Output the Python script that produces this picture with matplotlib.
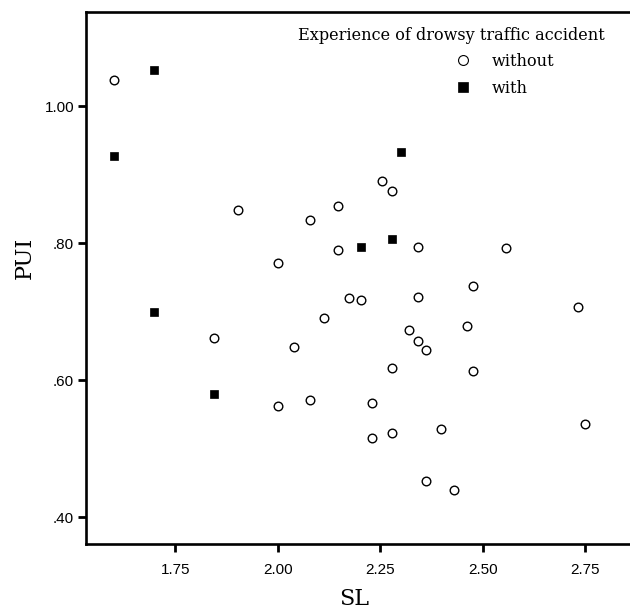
#!/usr/bin/env python3
"""
PUI vs SL scatter, split by drowsy accident experience
"""
import matplotlib
matplotlib.use("Agg")
import matplotlib.pyplot as plt
from matplotlib.ticker import FuncFormatter

# without accident (open circles)
sl_without = [1.600, 1.902, 2.079, 2.000, 2.253, 2.279, 2.146, 2.146, 2.341,
              2.557, 2.477, 2.174, 2.203, 2.341, 1.844, 2.040, 2.000, 2.079,
              2.733, 2.113, 2.462, 2.321, 2.341, 2.361, 2.279, 2.477, 2.230,
              2.749, 2.230, 2.279, 2.397, 2.361, 2.430]
pui_without = [1.039, 0.849, 0.834, 0.772, 0.891, 0.876, 0.855, 0.791, 0.795,
               0.793, 0.738, 0.721, 0.717, 0.722, 0.662, 0.648, 0.563, 0.571,
               0.707, 0.691, 0.679, 0.673, 0.658, 0.644, 0.618, 0.614, 0.567,
               0.536, 0.516, 0.523, 0.529, 0.453, 0.440]

# with accident (filled squares)
sl_with = [1.697, 1.600, 2.300, 2.203, 2.279, 1.697, 1.844]
pui_with = [1.053, 0.928, 0.934, 0.795, 0.806, 0.700, 0.580]

x_ticks = [1.75, 2.00, 2.25, 2.50, 2.75]
y_ticks = [0.40, 0.60, 0.80, 1.00]

legend_title = "Experience of drowsy traffic accident"
labels = ["without", "with"]


def y_format(value, pos):
    # SPSS style: no leading zero below 1
    s = f"{value:.2f}"
    return s[1:] if s.startswith("0") else s


fig = plt.figure(figsize=(6.3, 6.1), dpi=100)
ax = fig.add_axes([86 / 630, 66 / 610, 544 / 630, 532 / 610])

ax.plot(sl_without, pui_without, linestyle="none", marker="o", markersize=6.2,
        markerfacecolor="white", markeredgecolor="black", markeredgewidth=1.0,
        label=labels[0])
ax.plot(sl_with, pui_with, linestyle="none", marker="s", markersize=6.3,
        markerfacecolor="black", markeredgecolor="black", markeredgewidth=0.5,
        label=labels[1])

ax.set_xlim(1.532, 2.859)
ax.set_ylim(0.361, 1.138)
ax.set_xticks(x_ticks)
ax.set_yticks(y_ticks)
ax.xaxis.set_major_formatter(FuncFormatter(lambda v, p: f"{v:.2f}"))
ax.yaxis.set_major_formatter(FuncFormatter(y_format))

for side in ["left", "bottom", "top"]:
    ax.spines[side].set_linewidth(1.9)
ax.spines["right"].set_visible(False)

ax.tick_params(axis="both", direction="out", length=6, width=2, labelsize=11)
ax.tick_params(axis="y", pad=2.5)
ax.tick_params(axis="x", pad=7.5)
for lab in ax.get_xticklabels() + ax.get_yticklabels():
    lab.set_fontfamily("Liberation Sans")

ax.set_xlabel("SL", family="DejaVu Serif", fontsize=16)
ax.set_ylabel("PUI", family="DejaVu Serif", fontsize=16)
ax.xaxis.set_label_coords(0.493, -0.083)
ax.yaxis.set_label_coords(-0.092, 0.538)

ax.text(0.39, 0.947, legend_title, transform=ax.transAxes, ha="left",
        va="baseline", family="DejaVu Serif", fontsize=11.6)
leg = ax.legend(loc="upper left", bbox_to_anchor=(0.649, 0.938), frameon=False,
                borderpad=0, handlelength=2, handletextpad=0.8, labelspacing=0.62,
                prop={"family": "DejaVu Serif", "size": 11.6}, markerscale=1.15)
leg.legend_handles[0].set_markeredgewidth(0.8)

plt.savefig("out.png", dpi=100)
plt.close()
